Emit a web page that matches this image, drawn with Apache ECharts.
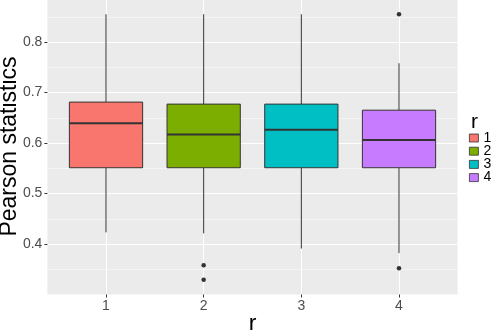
<html lang="en">
<head>
    <meta charset="UTF-8">
    <title>Pearson statistics boxplot</title>
    <script src="https://cdn.jsdelivr.net/npm/echarts@6/dist/echarts.min.js"></script>
</head>
<style>
    html, body { margin: 0; padding: 0; background: #fff; }
    #container { width: 494px; height: 330px; }
</style>
<body>
<div id="container"></div>
<script>
    // data
    const categories = ['1', '2', '3', '4'];
    const colors = ['#F8766D', '#7CAE00', '#00BFC4', '#C77CFF'];
    const lowerWhisker = [0.423, 0.421, 0.391, 0.382];
    const q1 = [0.551, 0.551, 0.551, 0.551];
    const median = [0.639, 0.617, 0.626, 0.606];
    const q3 = [0.681, 0.677, 0.677, 0.665];
    const upperWhisker = [0.855, 0.855, 0.855, 0.758];
    const outliers = [[2, 0.358], [2, 0.329], [4, 0.855], [4, 0.352]];
    const yTicks = [0.4, 0.5, 0.6, 0.7, 0.8];
    const xTicks = [1, 2, 3, 4];

    const font = '"Liberation Sans", Arial, sans-serif';
    var chart = echarts.init(document.getElementById('container'));

    // ggplot style box: whiskers, box and a thicker median line
    function renderBox(params, api)
    {
        const x = api.value(0);
        const half = api.size([0.75, 0])[0] / 2;
        const pLo = api.coord([x, api.value(1)]);
        const pQ1 = api.coord([x, api.value(2)]);
        const pMed = api.coord([x, api.value(3)]);
        const pQ3 = api.coord([x, api.value(4)]);
        const pHi = api.coord([x, api.value(5)]);
        const lineStyle = {stroke: '#333', lineWidth: 1};
        return {
            type: 'group',
            children: [
                {type: 'line', shape: {x1: pLo[0], y1: pLo[1], x2: pQ1[0], y2: pQ1[1]}, style: lineStyle},
                {type: 'line', shape: {x1: pQ3[0], y1: pQ3[1], x2: pHi[0], y2: pHi[1]}, style: lineStyle},
                {
                    type: 'rect',
                    shape: {x: pQ1[0] - half, y: pQ3[1], width: half * 2, height: pQ1[1] - pQ3[1]},
                    style: {fill: api.visual('color'), stroke: '#333', lineWidth: 1}
                },
                {
                    type: 'line',
                    shape: {x1: pMed[0] - half, y1: pMed[1], x2: pMed[0] + half, y2: pMed[1]},
                    style: {stroke: '#333', lineWidth: 2}
                }
            ]
        };
    }

    const series = categories.map(function (name, i)
    {
        return {
            name: name,
            type: 'custom',
            renderItem: renderBox,
            itemStyle: {color: colors[i]},
            encode: {x: 0, y: [1, 2, 3, 4, 5]},
            data: [[xTicks[i], lowerWhisker[i], q1[i], median[i], q3[i], upperWhisker[i]]],
            z: 3
        };
    });
    series.push({
        name: 'outliers',
        type: 'scatter',
        symbolSize: 4.5,
        itemStyle: {color: '#333', opacity: 1},
        data: outliers,
        z: 4
    });

    var option = {
        animation: false,
        textStyle: {fontFamily: font},
        title: {
            text: 'r',
            left: 469,
            top: 107,
            padding: [5, 5, 5, 2],
            textStyle: {fontSize: 21, fontWeight: 'normal', color: '#000', fontFamily: font}
        },
        legend: {
            orient: 'vertical',
            left: 469,
            top: 131,
            padding: 0,
            itemWidth: 9,
            itemHeight: 8,
            itemGap: -0.8,
            textStyle: {fontSize: 14, color: '#000', fontFamily: font},
            data: categories.map(function (name, i)
            {
                return {name: name, icon: 'rect', itemStyle: {color: colors[i], borderColor: '#333', borderWidth: 0.8}};
            })
        },
        grid: {
            left: 47.4,
            right: 36.4,
            top: -8.5,
            bottom: 35.5,
            outerBoundsMode: 'none',
            show: true,
            backgroundColor: '#EBEBEB',
            borderWidth: 0
        },
        xAxis: {
            type: 'value',
            min: 0.4,
            max: 4.6,
            name: 'r',
            nameLocation: 'middle',
            nameGap: 19,
            nameMoveOverlap: false,
            nameTextStyle: {fontSize: 23, color: '#000', fontFamily: font},
            axisLine: {show: false},
            axisTick: {show: true, length: 3, customValues: xTicks, lineStyle: {color: '#333'}},
            axisLabel: {
                customValues: xTicks,
                margin: 5,
                fontSize: 14,
                color: '#4D4D4D',
                fontFamily: font,
                formatter: function (v) { return String(Math.round(v)); }
            },
            splitLine: {show: true, lineStyle: {color: '#fff', width: 1}}
        },
        yAxis: {
            type: 'value',
            min: 0.3,
            max: 0.9,
            interval: 0.1,
            name: 'Pearson statistics',
            nameLocation: 'middle',
            nameGap: 26,
            nameMoveOverlap: false,
            nameTextStyle: {fontSize: 23, color: '#000', fontFamily: font, padding: [0, 7, 0, 0]},
            axisLine: {show: false},
            axisTick: {show: true, length: 3, customValues: yTicks, lineStyle: {color: '#333'}},
            axisLabel: {
                customValues: yTicks,
                margin: 5,
                fontSize: 14,
                color: '#4D4D4D',
                fontFamily: font,
                formatter: function (v) { return v.toFixed(1); }
            },
            splitLine: {show: true, lineStyle: {color: '#fff', width: 1}},
            minorTick: {show: false, splitNumber: 2},
            minorSplitLine: {show: true, lineStyle: {color: '#fff', width: 0.5}}
        },
        series: series
    };

    chart.setOption(option);
</script>
</body>
</html>
